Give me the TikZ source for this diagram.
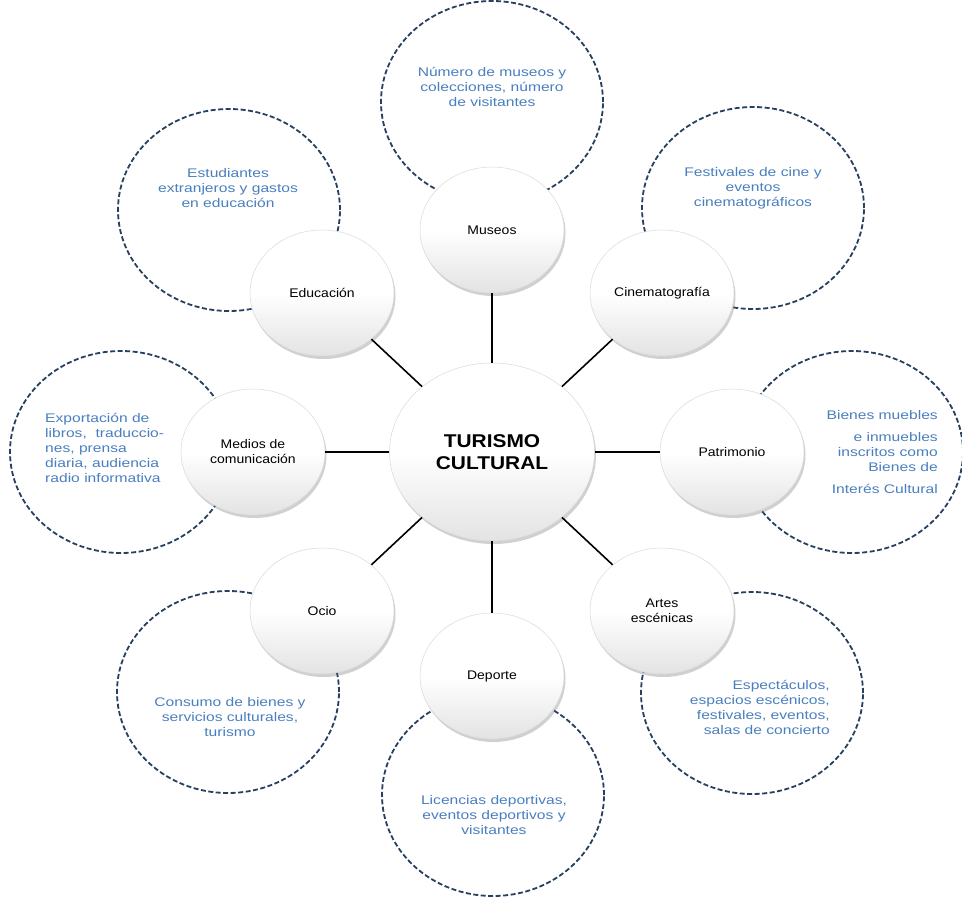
\documentclass[tikz,border=0pt]{standalone}
\usepackage{fontspec}
\setmainfont{Liberation Sans}
\newfontfamily\bluefont{Liberation Sans}[FakeStretch=1.25]
\newfontfamily\blkfont{Liberation Sans}[FakeStretch=1.12]
\newfontfamily\hubfont{Liberation Sans}[FakeStretch=1.13]
\usetikzlibrary{shapes.geometric,shadows}
\definecolor{txtblue}{HTML}{4A7FBF}
\definecolor{dashblue}{HTML}{27405F}
\tikzset{
  dashcirc/.style={ellipse, draw=dashblue, line width=1.8pt, dash pattern=on 5pt off 2.5pt,
    minimum width=222pt, minimum height=202pt, inner sep=0pt},
  topic/.style={ellipse, draw=black!15, line width=0.5pt, top color=white, bottom color=black!11,
    middle color=white, minimum width=144pt, minimum height=126pt, inner sep=0pt, align=center,
    font=\blkfont\fontsize{12.5}{15}\selectfont,
    drop shadow={opacity=0.3, shadow xshift=1.5pt, shadow yshift=-3pt, fill=black!60}},
  hub/.style={topic, minimum width=205pt, minimum height=178pt,
    font=\hubfont\bfseries\fontsize{18.5}{22}\selectfont},
  bluetxt/.style={text=txtblue, font=\bluefont\fontsize{12.5}{15}\selectfont, inner sep=0pt},
  link/.style={draw=black, line width=1.6pt}
}
\begin{document}
\begin{tikzpicture}[x=1pt,y=-1pt]
\clip (0,0) rectangle (962,899);
\fill[white] (0,0) rectangle (962,899);
% dashed outer circles
\node[dashcirc] (dm)  at (492,102) {};
\node[dashcirc] (dd)  at (493,795) {};
\node[dashcirc] (de)  at (229,210) {};
\node[dashcirc] (dc)  at (753,208) {};
\node[dashcirc] (do)  at (228,692) {};
\node[dashcirc] (da)  at (752,693) {};
\node[dashcirc] (dme) at (121,452) {};
\node[dashcirc] (dp)  at (852,452) {};
% blue texts
\node[bluetxt, align=center] (tm) at (492,87) {Número de museos y\\colecciones, número\\de visitantes};
\node[bluetxt, align=center] (te) at (228,188) {Estudiantes\\extranjeros y gastos\\en educación};
\node[bluetxt, align=center] (tc) at (753,188) {Festivales de cine y\\eventos\\cinematográficos};
\node[bluetxt, align=right, anchor=east] (tp) at (938,452) {Bienes muebles\\[7pt]e inmuebles\\inscritos como\\Bienes de\\[7pt]Interés Cultural};
\node[bluetxt, align=left, anchor=west] (tme) at (45,448) {Exportación de\\libros,\ \ traduccio-\\nes, prensa\\diaria, audiencia\\radio informativa};
\node[bluetxt, align=center] (to) at (230,717) {Consumo de bienes y\\servicios culturales,\\turismo};
\node[bluetxt, align=right, anchor=east] (ta) at (830,707) {Espectáculos,\\espacios escénicos,\\festivales, eventos,\\salas de concierto};
\node[bluetxt, align=center] (td) at (494,815) {Licencias deportivas,\\eventos deportivos y\\visitantes};
% topic circles
\node[topic] (m)  at (492,230) {Museos};
\node[topic] (d)  at (492,676) {Deporte};
\node[topic] (e)  at (322,293) {Educación};
\node[topic] (ci) at (662,293) {Cinematografía};
\node[topic] (o)  at (322,611) {Ocio};
\node[topic] (a)  at (662,611) {Artes\\escénicas};
\node[topic] (me) at (253,452) {Medios de\\comunicación};
\node[topic] (p)  at (732,452) {Patrimonio};
% hub
\node[hub] (c) at (492,452) {TURISMO\\CULTURAL};
% connectors
\foreach \t in {m,d,e,ci,o,a,me,p} { \draw[link] (c) -- (\t); }
\end{tikzpicture}
\end{document}
